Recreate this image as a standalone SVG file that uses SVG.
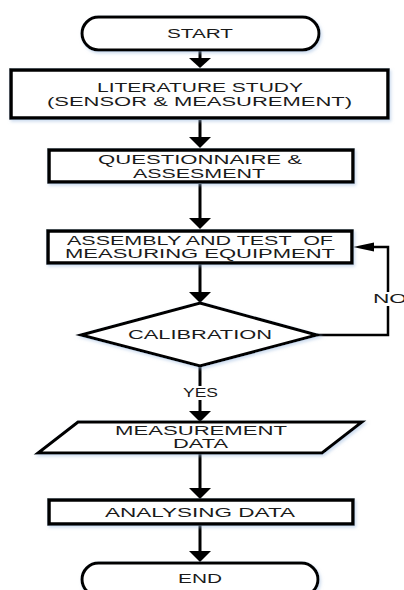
<svg xmlns="http://www.w3.org/2000/svg" width="404" height="590" viewBox="0 0 404 590">
<style>
.shape{fill:#ffffff;stroke:#000000;stroke-linejoin:miter;filter:url(#sh)}
.box{stroke-width:3.5}
.term{stroke-width:3}
.t{font-family:"Liberation Sans",Arial,sans-serif;font-size:12.5px;fill:#1a1a1a}
.c{fill:none;stroke:#000000;stroke-width:3}
.lbl{fill:#ffffff}
</style>
<defs>
<filter id="sh" x="-10%" y="-20%" width="120%" height="150%">
<feDropShadow dx="1.5" dy="2" stdDeviation="1.5" flood-color="#9fbbe0" flood-opacity="0.5"/>
</filter>
<marker id="ah" markerUnits="userSpaceOnUse" markerWidth="24" markerHeight="12" refX="11" refY="11" orient="auto" viewBox="0 0 24 12">
</marker>
</defs>

<g id="connectors">
<line class="c" x1="200" y1="50" x2="200" y2="60"/>
<polygon points="189,58 211,58 200,68"/>
<line class="c" x1="200" y1="120" x2="200" y2="139"/>
<polygon points="189,137 211,137 200,148"/>
<line class="c" x1="200" y1="184" x2="200" y2="220"/>
<polygon points="189,218 211,218 200,229"/>
<line class="c" x1="200" y1="264" x2="200" y2="294"/>
<polygon points="189,292 211,292 200,303"/>
<line class="c" x1="200" y1="365" x2="200" y2="413"/>
<polygon points="189,411 211,411 200,422"/>
<line class="c" x1="200" y1="453" x2="200" y2="490"/>
<polygon points="189,488 211,488 200,499"/>
<line class="c" x1="200" y1="525" x2="200" y2="553"/>
<polygon points="189,551 211,551 200,562"/>
<polyline class="c" style="stroke-width:2.5" points="317,335 388,335 388,247 372,247"/>
<polygon points="374,242.5 374,251.5 353,247"/>
<rect class="lbl" x="372" y="292" width="32" height="14"/>
<text class="t" x="373" y="303" textLength="34" lengthAdjust="spacingAndGlyphs">NO</text>
<rect class="lbl" x="180" y="386" width="40" height="14"/>
<text class="t" x="183" y="397" textLength="35" lengthAdjust="spacingAndGlyphs">YES</text>
</g>

<g id="start">
<rect class="shape term" x="82" y="17" width="237" height="33" rx="16.5"/>
<text class="t" x="167" y="38" textLength="66" lengthAdjust="spacingAndGlyphs">START</text>
</g>

<g id="literature">
<rect class="shape box" x="11" y="70" width="377" height="48"/>
<text class="t" x="97" y="92" textLength="206" lengthAdjust="spacingAndGlyphs">LITERATURE STUDY</text>
<text class="t" x="47" y="106" textLength="305" lengthAdjust="spacingAndGlyphs">(SENSOR &amp; MEASUREMENT)</text>
</g>

<g id="questionnaire">
<rect class="shape box" x="49" y="150" width="304" height="32"/>
<text class="t" x="98" y="164" textLength="204" lengthAdjust="spacingAndGlyphs">QUESTIONNAIRE &amp;</text>
<text class="t" x="133" y="178" textLength="132" lengthAdjust="spacingAndGlyphs">ASSESMENT</text>
</g>

<g id="assembly">
<rect class="shape box" x="48" y="231" width="304" height="32"/>
<text class="t" x="67" y="245" textLength="266" lengthAdjust="spacingAndGlyphs" xml:space="preserve">ASSEMBLY AND TEST  OF</text>
<text class="t" x="65" y="258" textLength="270" lengthAdjust="spacingAndGlyphs">MEASURING EQUIPMENT</text>
</g>

<g id="calibration">
<polygon class="shape term" points="200,303 317,335 200,366 81,335"/>
<text class="t" x="128" y="339" textLength="144" lengthAdjust="spacingAndGlyphs">CALIBRATION</text>
</g>

<g id="measurement">
<polygon class="shape term" points="78,422 362,422 322,453 38,453"/>
<text class="t" x="115" y="435" textLength="172" lengthAdjust="spacingAndGlyphs">MEASUREMENT</text>
<text class="t" x="173" y="448" textLength="55" lengthAdjust="spacingAndGlyphs">DATA</text>
</g>

<g id="analysing">
<rect class="shape box" x="49" y="500" width="304" height="24"/>
<text class="t" x="105" y="517" textLength="190" lengthAdjust="spacingAndGlyphs">ANALYSING DATA</text>
</g>

<g id="end">
<rect class="shape term" x="82" y="563" width="236" height="33" rx="16.5"/>
<text class="t" x="178" y="583" textLength="44" lengthAdjust="spacingAndGlyphs">END</text>
</g>
</svg>
